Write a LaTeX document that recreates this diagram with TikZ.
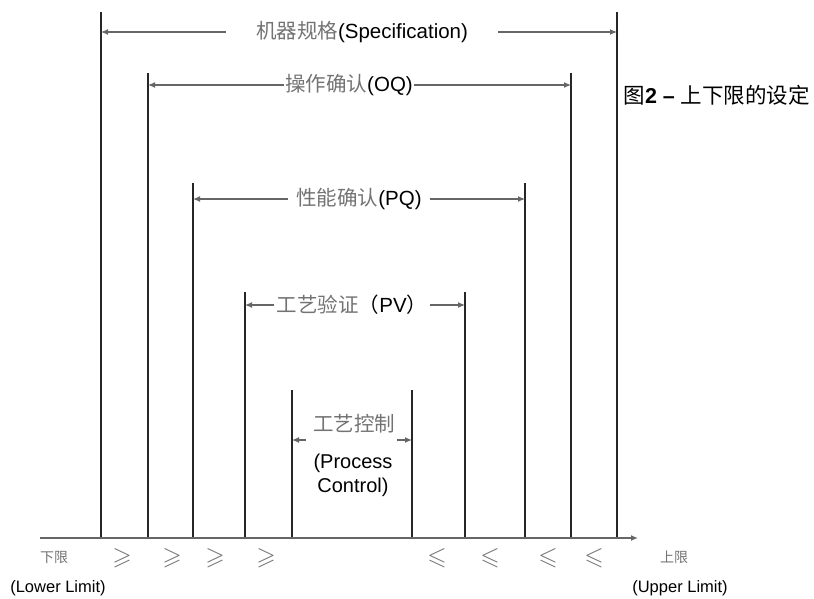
\documentclass[tikz,border=0pt]{standalone}
\usepackage{fontspec}
\setmainfont{Liberation Sans}
\newfontfamily\cjk{Noto Sans CJK SC}
\usepackage{amssymb}
\usetikzlibrary{arrows.meta}
\definecolor{cjkgray}{gray}{0.45}
\definecolor{dimgray}{gray}{0.4}
\newcommand\zh[1]{{\cjk\color{cjkgray}#1}}
\begin{document}
\begin{tikzpicture}[x=1pt,y=-1pt,
  vline/.style={draw=black!85,line width=1.3pt},
  axisline/.style={draw=dimgray,line width=1.5pt,-{Latex[length=7pt,width=6pt]}},
  dimline/.style={draw=dimgray,line width=1.2pt,-{Latex[length=7pt,width=6pt]}},
  lbl/.style={inner ysep=0pt,font=\fontsize{20.5}{24}\selectfont},
  small/.style={inner sep=0pt,font=\fontsize{16.5}{19}\selectfont},
  rel/.style={inner sep=0pt,text=cjkgray,font=\fontsize{25}{26}\selectfont}]
\useasboundingbox (0,0) rectangle (814,598);
% vertical line ends
\coordinate (L1b) at (101,538); \coordinate (L1t) at (101,12);
\coordinate (R1b) at (617,538); \coordinate (R1t) at (617,12);
\coordinate (L2b) at (148,538); \coordinate (L2t) at (148,73);
\coordinate (R2b) at (571,538); \coordinate (R2t) at (571,73);
\coordinate (L3b) at (193,538); \coordinate (L3t) at (193,183);
\coordinate (R3b) at (525,538); \coordinate (R3t) at (525,183);
\coordinate (L4b) at (245,538); \coordinate (L4t) at (245,292);
\coordinate (R4b) at (465,538); \coordinate (R4t) at (465,292);
\coordinate (L5b) at (292,538); \coordinate (L5t) at (292,390);
\coordinate (R5b) at (412,538); \coordinate (R5t) at (412,390);
\coordinate (ax0) at (40,538); \coordinate (ax1) at (638,538);
\foreach \n in {L1,R1,L2,R2,L3,R3,L4,R4,L5,R5}
  \draw[vline] (\n b) -- (\n t);
\draw[axisline] (ax0) -- (ax1);
% labels
\node[lbl,inner xsep=30pt] (spec) at (362,32) {\zh{机器规格}(Specification)};
\node[lbl,inner xsep=1pt] (oq) at (349,85) {\zh{操作确认}(OQ)};
\node[lbl,inner xsep=8pt] (pq) at (359,199) {\zh{性能确认}(PQ)};
\node[lbl,inner xsep=3pt] (pv) at (352,305) {\zh{工艺验证}{\cjk （}PV{\cjk ）}};
\node[lbl] (pc) at (354,424) {\zh{工艺控制}};
\node[lbl,align=center,font=\fontsize{20}{24}\selectfont] (pce) at (353,475) {(Process\\Control)};
\coordinate (pcl) at (306,440); \coordinate (pcr) at (397,440);
\draw[dimline] (spec.west) -- (spec.west -| L1t);
\draw[dimline] (spec.east) -- (spec.east -| R1t);
\draw[dimline] (oq.west) -- (oq.west -| L2t);
\draw[dimline] (oq.east) -- (oq.east -| R2t);
\draw[dimline] (pq.west) -- (pq.west -| L3t);
\draw[dimline] (pq.east) -- (pq.east -| R3t);
\draw[dimline] (pv.west) -- (pv.west -| L4t);
\draw[dimline] (pv.east) -- (pv.east -| R4t);
\draw[dimline] (pcl) -- (pcl -| L5t);
\draw[dimline] (pcr) -- (pcr -| R5t);
% title
\node[lbl,anchor=west,font=\fontsize{21.5}{24}\selectfont] (title) at (620,95) {{\cjk 图}\textbf{2 –} {\cjk 上下限的设定}};
% bottom
\node[small,text=cjkgray,font=\fontsize{14}{16}\selectfont] (lo) at (54,557) {\cjk 下限};
\node[small,text=cjkgray,font=\fontsize{14}{16}\selectfont] (up) at (674,557) {\cjk 上限};
\node[small] (lol) at (58,588) {(Lower Limit)};
\node[small] (upl) at (680,588) {(Upper Limit)};
\node[rel] (g1) at (122,558) {$\geqslant$};
\node[rel] (g2) at (172,558) {$\geqslant$};
\node[rel] (g3) at (215,558) {$\geqslant$};
\node[rel] (g4) at (266,558) {$\geqslant$};
\node[rel] (s1) at (437,558) {$\leqslant$};
\node[rel] (s2) at (490,558) {$\leqslant$};
\node[rel] (s3) at (548,558) {$\leqslant$};
\node[rel] (s4) at (594,558) {$\leqslant$};
\end{tikzpicture}
\end{document}
